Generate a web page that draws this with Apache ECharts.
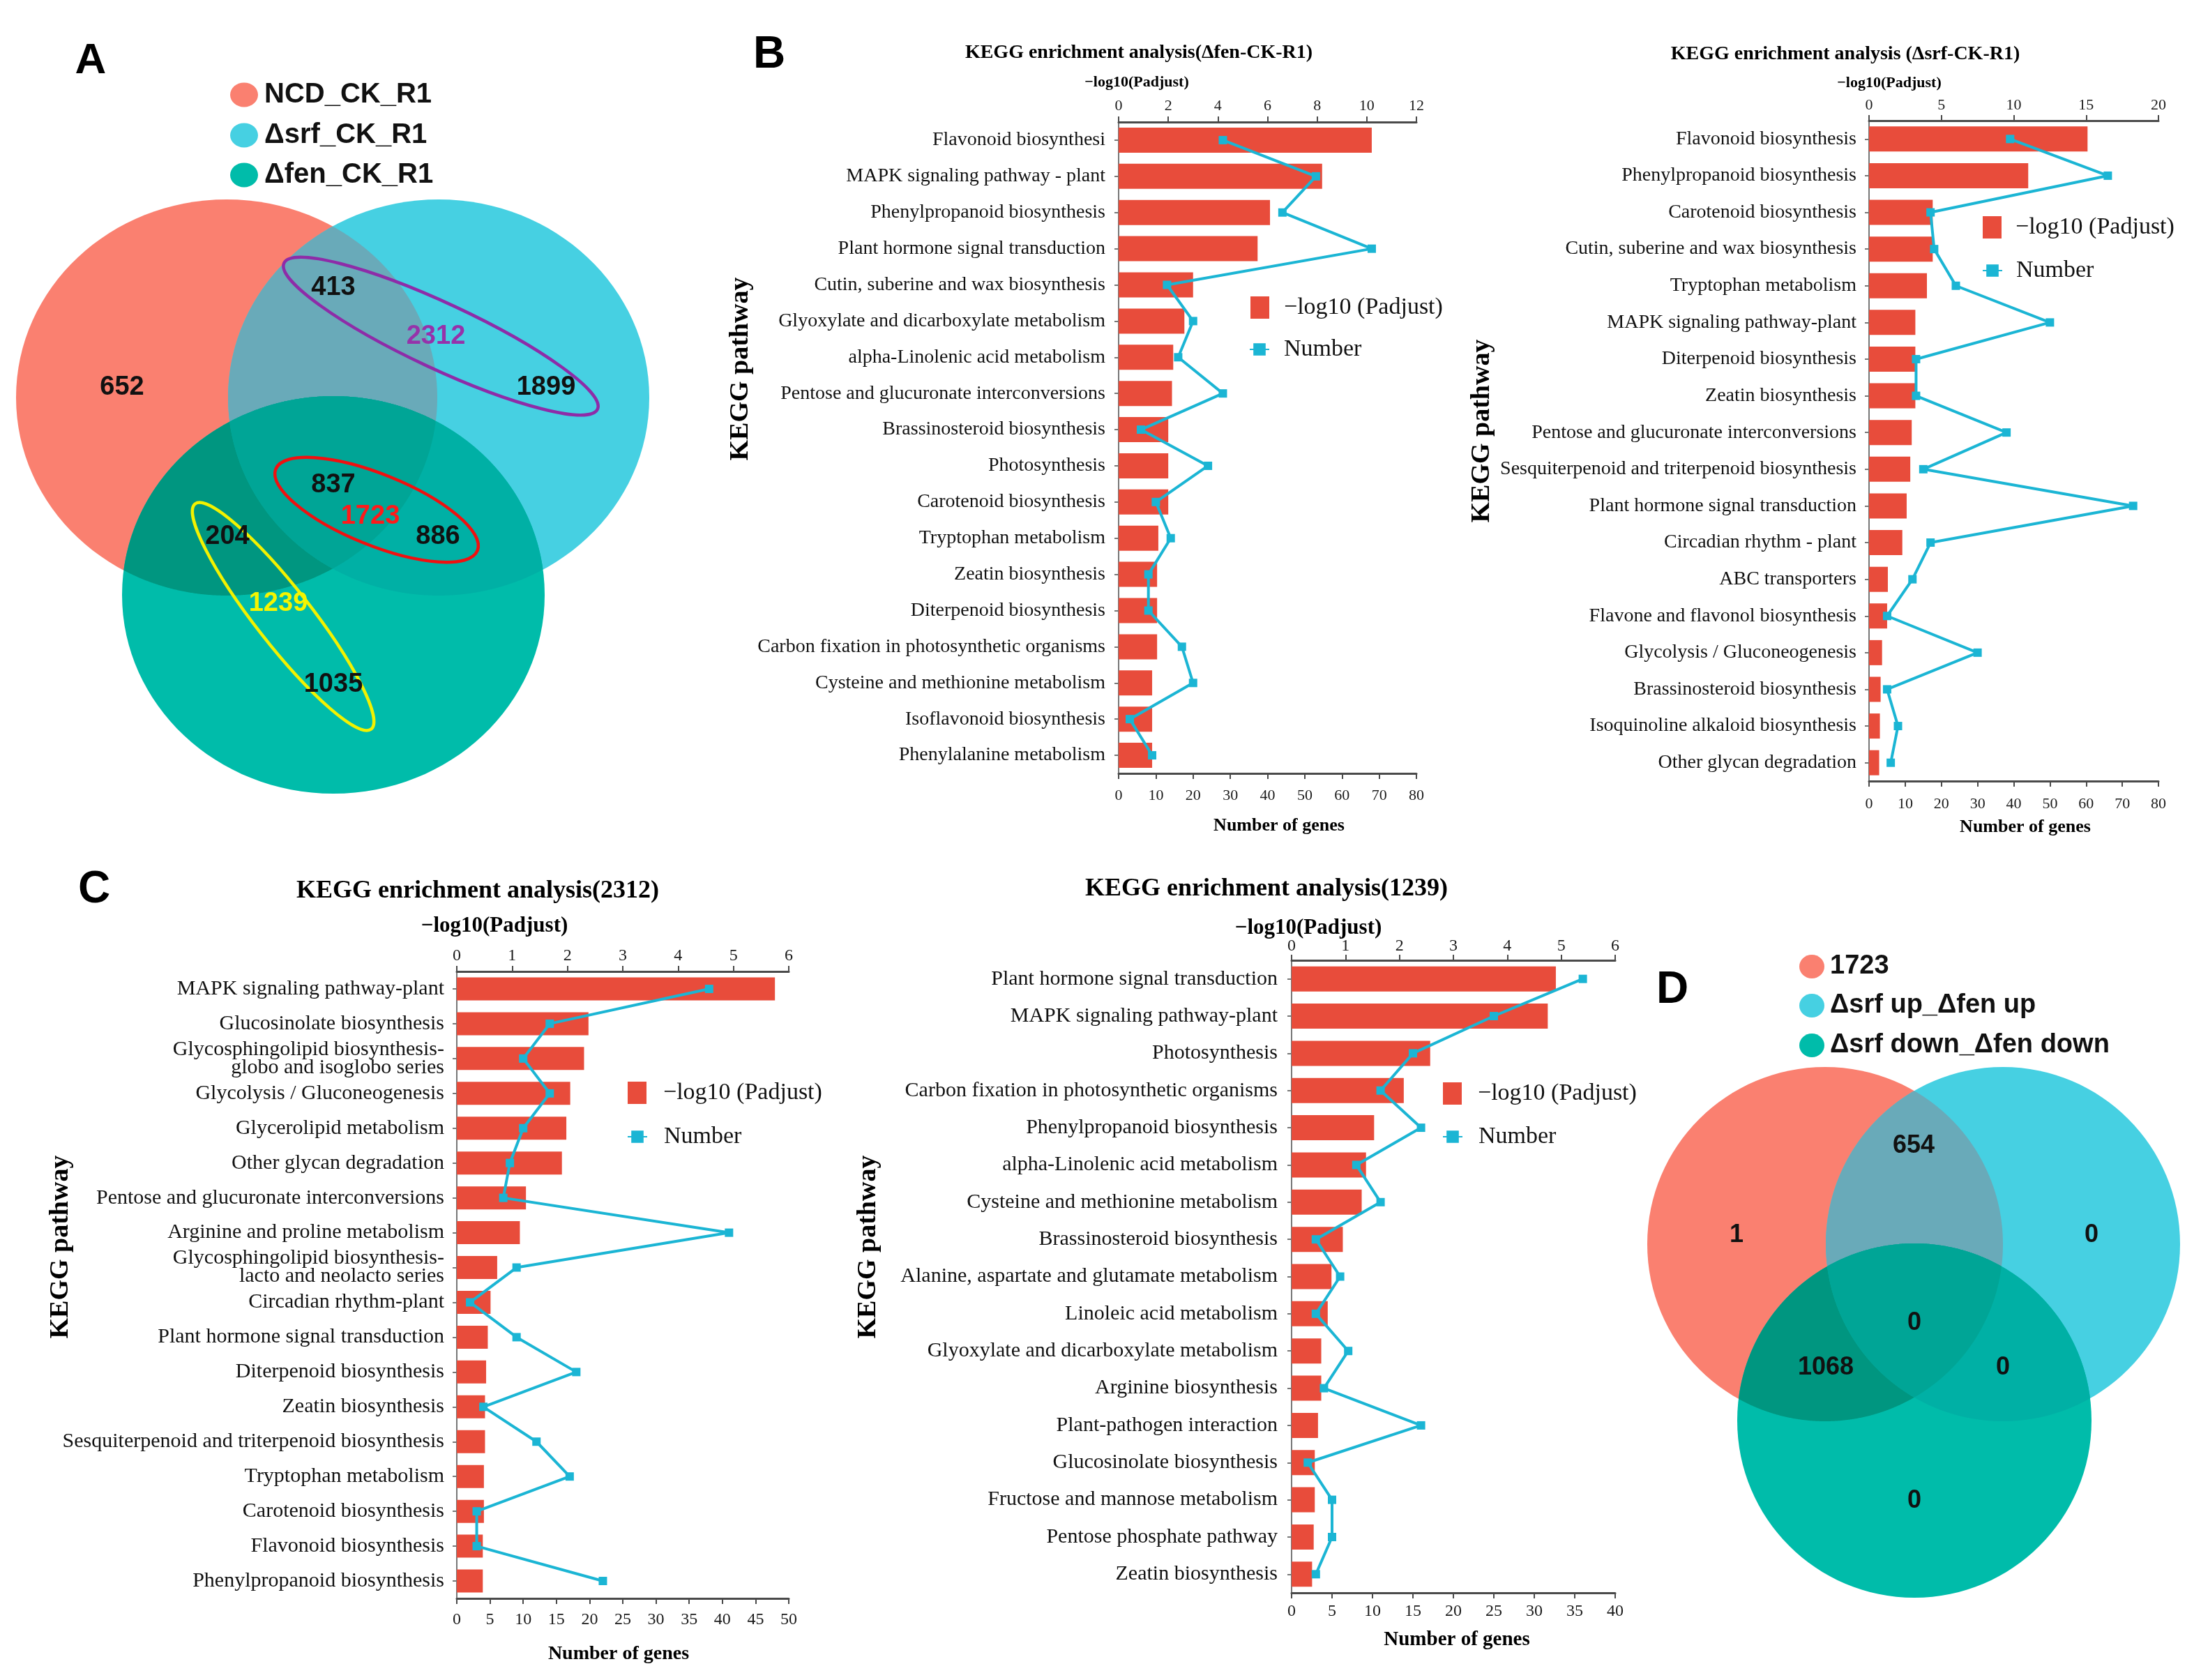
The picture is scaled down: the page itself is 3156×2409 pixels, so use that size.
<!DOCTYPE html>
<html><head><meta charset="utf-8">
<script src="https://cdn.jsdelivr.net/npm/echarts@6/dist/echarts.min.js"></script>
<style>html,body{margin:0;padding:0;background:#fff}#c{width:3156px;height:2409px}</style>
</head><body><div id="c"></div>
<script>
// ---------------- DATA ----------------
const b1Categories = ['Flavonoid biosynthesi','MAPK signaling pathway - plant','Phenylpropanoid biosynthesis','Plant hormone signal transduction','Cutin, suberine and wax biosynthesis','Glyoxylate and dicarboxylate metabolism','alpha-Linolenic acid metabolism','Pentose and glucuronate interconversions','Brassinosteroid biosynthesis','Photosynthesis','Carotenoid biosynthesis','Tryptophan metabolism','Zeatin biosynthesis','Diterpenoid biosynthesis','Carbon fixation in photosynthetic organisms','Cysteine and methionine metabolism','Isoflavonoid biosynthesis','Phenylalanine metabolism'];
const b1Padjust = [10.2, 8.2, 6.1, 5.6, 3.0, 2.65, 2.2, 2.15, 2.0, 2.0, 2.0, 1.6, 1.55, 1.55, 1.55, 1.35, 1.35, 1.35];
const b1Number = [28, 53, 44, 68, 13, 20, 16, 28, 6, 24, 10, 14, 8, 8, 17, 20, 3, 9];

const b2Categories = ['Flavonoid biosynthesis','Phenylpropanoid biosynthesis','Carotenoid biosynthesis','Cutin, suberine and wax biosynthesis','Tryptophan metabolism','MAPK signaling pathway-plant','Diterpenoid biosynthesis','Zeatin biosynthesis','Pentose and glucuronate interconversions','Sesquiterpenoid and triterpenoid biosynthesis','Plant hormone signal transduction','Circadian rhythm - plant','ABC transporters','Flavone and flavonol biosynthesis','Glycolysis / Gluconeogenesis','Brassinosteroid biosynthesis','Isoquinoline alkaloid biosynthesis','Other glycan degradation'];
const b2Padjust = [15.1, 11.0, 4.4, 4.4, 4.0, 3.2, 3.2, 3.2, 2.95, 2.85, 2.6, 2.3, 1.3, 1.25, 0.9, 0.8, 0.75, 0.7];
const b2Number = [39, 66, 17, 18, 24, 50, 13, 13, 38, 15, 73, 17, 12, 5, 30, 5, 8, 6];

const c1Categories = ['MAPK signaling pathway-plant','Glucosinolate biosynthesis','Glycosphingolipid biosynthesis-\nglobo and isoglobo series','Glycolysis / Gluconeogenesis','Glycerolipid metabolism','Other glycan degradation','Pentose and glucuronate interconversions','Arginine and proline metabolism','Glycosphingolipid biosynthesis-\nlacto and neolacto series','Circadian rhythm-plant','Plant hormone signal transduction','Diterpenoid biosynthesis','Zeatin biosynthesis','Sesquiterpenoid and triterpenoid biosynthesis','Tryptophan metabolism','Carotenoid biosynthesis','Flavonoid biosynthesis','Phenylpropanoid biosynthesis'];
const c1Padjust = [5.75, 2.38, 2.3, 2.05, 1.98, 1.9, 1.25, 1.14, 0.73, 0.61, 0.56, 0.53, 0.51, 0.51, 0.49, 0.49, 0.47, 0.47];
const c1Number = [38, 14, 10, 14, 10, 8, 7, 41, 9, 2, 9, 18, 4, 12, 17, 3, 3, 22];

const c2Categories = ['Plant hormone signal transduction','MAPK signaling pathway-plant','Photosynthesis','Carbon fixation in photosynthetic organisms','Phenylpropanoid biosynthesis','alpha-Linolenic acid metabolism','Cysteine and methionine metabolism','Brassinosteroid biosynthesis','Alanine, aspartate and glutamate metabolism','Linoleic acid metabolism','Glyoxylate and dicarboxylate metabolism','Arginine biosynthesis','Plant-pathogen interaction','Glucosinolate biosynthesis','Fructose and mannose metabolism','Pentose phosphate pathway','Zeatin biosynthesis'];
const c2Padjust = [4.9, 4.75, 2.57, 2.08, 1.53, 1.38, 1.3, 0.95, 0.74, 0.67, 0.55, 0.55, 0.49, 0.43, 0.43, 0.41, 0.38];
const c2Number = [36, 25, 15, 11, 16, 8, 11, 3, 6, 3, 7, 4, 16, 2, 5, 5, 3];

const chartTitles = ['KEGG enrichment analysis(\u0394fen-CK-R1)','KEGG enrichment analysis (\u0394srf-CK-R1)','KEGG enrichment analysis(2312)','KEGG enrichment analysis(1239)'];
const topAxisMax = [12, 20, 6, 6];
const topAxisStep = [2, 5, 1, 1];
const bottomAxisMax = [80, 80, 50, 40];
const bottomAxisStep = [10, 10, 5, 5];

// Venn A: regions order = [R only, R&B, B only, R&B&G, B&G, R&G, G only]
const vennASets = ['NCD_CK_R1','\u0394srf_CK_R1','\u0394fen_CK_R1'];
const vennACounts = [652, 413, 1899, 837, 886, 204, 1035];
const vennAGroups = [2312, 1723, 1239];
// Venn D
const vennDSets = ['1723','\u0394srf up_\u0394fen up','\u0394srf down_\u0394fen down'];
const vennDCounts = [1, 654, 0, 0, 0, 1068, 0];

// ---------------- LAYOUT / STYLE ----------------
const SERIF = '"Liberation Serif", "Times New Roman", serif';
const SANS = '"Liberation Sans", Arial, sans-serif';
const BAR = '#E84C3B';
const CYAN = '#1BB5D4';
const AX = '#4a4a4a';
const NAME_BAR = '\u2212log10 (Padjust)';
const NAME_NUM = 'Number';

const panels = [
  {cats:b1Categories, padj:b1Padjust, num:b1Number, grid:{left:1604, top:175, width:427, height:934}, lab:28, tick:22, bw:36, tm:12, bm:21, lm:19,
   leg:{l:1788, t:419, nl:1786, nt:479, pad:16}},
  {cats:b2Categories, padj:b2Padjust, num:b2Number, grid:{left:2680, top:173, width:415, height:947}, lab:28, tick:22, bw:36, tm:11, bm:22, lm:18,
   leg:{l:2838, t:304, nl:2837, nt:366, pad:15}},
  {cats:c1Categories, padj:c1Padjust, num:c1Number, grid:{left:655, top:1393, width:476, height:899}, lab:30, tick:24, bw:33, tm:10, bm:19, lm:18,
   leg:{l:895, t:1545, nl:894, nt:1608, pad:19}},
  {cats:c2Categories, padj:c2Padjust, num:c2Number, grid:{left:1852, top:1377, width:464, height:907}, lab:30, tick:24, bw:36, tm:8, bm:15, lm:20,
   leg:{l:2064, t:1546, nl:2063, nt:1608, pad:18}}
];

const grid = [], xAxis = [], yAxis = [], series = [], legend = [];
panels.forEach((p, g) => {
  grid.push(Object.assign({containLabel:false}, p.grid));
  const common = {
    type:'value', gridIndex:g, min:0, splitLine:{show:false},
    axisLine:{show:true, lineStyle:{color:AX, width:3}},
    axisTick:{show:true, inside:false, length:8, lineStyle:{color:AX, width:2}},
  };
  xAxis.push(Object.assign({}, common, {position:'bottom', max:bottomAxisMax[g], interval:bottomAxisStep[g],
    axisLabel:{fontFamily:SERIF, fontSize:p.tick, color:'#1a1a1a', margin:p.bm}}));
  xAxis.push(Object.assign({}, common, {position:'top', max:topAxisMax[g], interval:topAxisStep[g],
    axisLabel:{fontFamily:SERIF, fontSize:p.tick, color:'#1a1a1a', margin:p.tm}}));
  yAxis.push({type:'category', gridIndex:g, inverse:true, data:p.cats,
    axisLine:{show:true, lineStyle:{color:'#777', width:2}},
    axisTick:{show:true, alignWithLabel:true, length:6, lineStyle:{color:'#777', width:2}},
    axisLabel:{fontFamily:SERIF, fontSize:p.lab, color:'#111', margin:p.lm, lineHeight:26, align:'right'}});
  series.push({type:'bar', name:NAME_BAR, xAxisIndex:2*g+1, yAxisIndex:g, data:p.padj, barWidth:p.bw,
    itemStyle:{color:BAR}, silent:true});
  series.push({type:'line', name:NAME_NUM, xAxisIndex:2*g, yAxisIndex:g, data:p.num,
    symbol:'rect', symbolSize:12, lineStyle:{color:CYAN, width:4}, itemStyle:{color:CYAN}, z:5, silent:true});
  legend.push({orient:'vertical', left:p.leg.l, top:p.leg.t, itemWidth:27, itemHeight:32, selectedMode:false,
    data:[{name:NAME_BAR, icon:'rect'}], textStyle:{fontFamily:SERIF, fontSize:34, color:'#111', padding:[0,0,0,p.leg.pad]}});
  legend.push({orient:'vertical', left:p.leg.nl, top:p.leg.nt, itemWidth:28, itemHeight:22, selectedMode:false,
    data:[{name:NAME_NUM}], textStyle:{fontFamily:SERIF, fontSize:34, color:'#111', padding:[0,0,0,p.leg.pad]}});
});

// ---------------- GRAPHIC TEXT + VENN ----------------
const gfx = [];
function T(text, x, y, font, fill, rot) {
  gfx.push({type:'text', x:x, y:y, rotation:rot||0, z:50,
    style:{text:String(text), font:font, fill:fill||'#111', align:'center', verticalAlign:'middle', textAlign:'center', textVerticalAlign:'middle'}});
}
function TL(text, x, y, font, fill) {
  gfx.push({type:'text', x:x, y:y, z:50,
    style:{text:String(text), font:font, fill:fill||'#111', align:'left', verticalAlign:'middle', textAlign:'left', textVerticalAlign:'middle'}});
}
function E(e, fill, z) {
  gfx.push({type:'ellipse', z:z||10, shape:{cx:e.cx, cy:e.cy, rx:e.rx, ry:e.ry}, style:{fill:fill}});
}
function RING(cx, cy, a, b, deg, color) {
  gfx.push({type:'ellipse', z:30, x:cx, y:cy, rotation:-deg*Math.PI/180, shape:{cx:0, cy:0, rx:a, ry:b},
    style:{fill:'none', stroke:color, lineWidth:4.5}});
}
// convex intersection of ellipses as polygon (boundary samples inside all others)
function inE(e, p) { const dx = (p[0]-e.cx)/e.rx, dy = (p[1]-e.cy)/e.ry; return dx*dx + dy*dy <= 1.000001; }
function lens(list, fill, z) {
  const pts = [];
  list.forEach((e, i) => {
    for (let k = 0; k < 1440; k++) {
      const t = 2*Math.PI*k/1440, p = [e.cx + e.rx*Math.cos(t), e.cy + e.ry*Math.sin(t)];
      if (list.every((o, j) => j === i || inE(o, p))) pts.push(p);
    }
  });
  let mx = 0, my = 0; pts.forEach(p => { mx += p[0]; my += p[1]; }); mx /= pts.length; my /= pts.length;
  pts.sort((a, b) => Math.atan2(a[1]-my, a[0]-mx) - Math.atan2(b[1]-my, b[0]-mx));
  gfx.push({type:'polygon', z:z, shape:{points:pts}, style:{fill:fill}});
}
const COL = {R:'#FA8070', B:'#46D0E2', G:'#00BCAA', RB:'#69AAB9', RG:'#009680', BG:'#00B0A5', RBG:'#00A596'};
function venn(r, b, gr) {
  E(r, COL.R, 10); E(b, COL.B, 11); E(gr, COL.G, 12);
  lens([r, b], COL.RB, 13); lens([r, gr], COL.RG, 14); lens([b, gr], COL.BG, 15); lens([r, b, gr], COL.RBG, 16);
}

// panel letters
T('A', 130, 88, 'bold 62px ' + SANS, '#000');
T('B', 1103, 79, 'bold 64px ' + SANS, '#000');
T('C', 135, 1276, 'bold 64px ' + SANS, '#000');
T('D', 2398, 1420, 'bold 64px ' + SANS, '#000');

// chart titles and axis titles
const titlePos = [[1633, 76, 28], [2646, 78, 28], [685, 1278, 36], [1816, 1275, 36]];
const subPos = [[1630, 118, 22], [2709, 119, 22], [709, 1328, 31], [1876, 1331, 31]];
const genesPos = [[1834, 1184, 26], [2904, 1186, 26], [887, 2372, 28], [2089, 2352, 29]];
const pathPos = [[1062, 529, 38], [2125, 618, 38], [87, 1788, 38], [1245, 1788, 38]];
for (let i = 0; i < 4; i++) {
  T(chartTitles[i], titlePos[i][0], titlePos[i][1], 'bold ' + titlePos[i][2] + 'px ' + SERIF, '#000');
  T('\u2212log10(Padjust)', subPos[i][0], subPos[i][1], 'bold ' + subPos[i][2] + 'px ' + SERIF, '#000');
  T('Number of genes', genesPos[i][0], genesPos[i][1], 'bold ' + genesPos[i][2] + 'px ' + SERIF, '#000');
  T('KEGG pathway', pathPos[i][0], pathPos[i][1], 'bold ' + pathPos[i][2] + 'px ' + SERIF, '#000', Math.PI/2);
}

const legCols = [COL.R, COL.B, COL.G];

// Venn A
venn({cx:325, cy:570, rx:302, ry:284}, {cx:629, cy:570, rx:302, ry:284}, {cx:478, cy:853, rx:303, ry:285});
const aLegY = [136, 194, 251];
vennASets.forEach((s, i) => { E({cx:350, cy:aLegY[i], rx:20, ry:17.5}, legCols[i], 20); TL(s, 379, aLegY[i], 'bold 40px ' + SANS, '#111'); });
RING(632, 482, 248, 47, 25, '#8E2CA8');
RING(540, 731, 156, 51, 22, '#F01010');
RING(406, 884, 205, 40, 52, '#F2F200');
const aPos = [[175,556],[478,413],[783,556],[478,696],[628,770],[326,770],[478,982]];
vennACounts.forEach((v, i) => T(v, aPos[i][0], aPos[i][1], 'bold 38px ' + SANS, '#111'));
const aGPos = [[625,483],[531,741],[399,866]];
const aGCol = ['#9632AA', '#FF1A1A', '#F5F500'];
vennAGroups.forEach((v, i) => T(v, aGPos[i][0], aGPos[i][1], 'bold 38px ' + SANS, aGCol[i]));

// Venn D
venn({cx:2617, cy:1784, rx:255, ry:254}, {cx:2872, cy:1784, rx:254, ry:254}, {cx:2745, cy:2037, rx:254, ry:254});
const dLegY = [1386, 1442, 1499];
vennDSets.forEach((s, i) => { E({cx:2598, cy:dLegY[i], rx:18, ry:17}, legCols[i], 20); TL(s, 2624, dLegY[i], 'bold 38px ' + SANS, '#111'); });
const dPos = [[2490,1771],[2744,1643],[2999,1771],[2745,1897],[2872,1961],[2618,1961],[2745,2152]];
vennDCounts.forEach((v, i) => T(v, dPos[i][0], dPos[i][1], 'bold 36px ' + SANS, '#111'));

const chart = echarts.init(document.getElementById('c'), null, {renderer:'canvas'});
chart.setOption({
  backgroundColor:'#ffffff',
  animation:false,
  grid:grid, xAxis:xAxis, yAxis:yAxis, series:series, legend:legend,
  graphic:{elements:gfx}
});
</script></body></html>
